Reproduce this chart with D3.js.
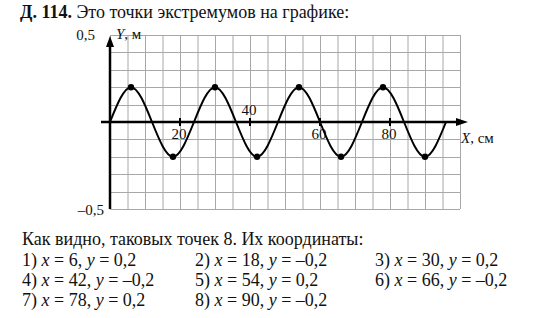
<!DOCTYPE html>
<html>
<head>
<meta charset="utf-8">
<script src="https://cdn.jsdelivr.net/npm/d3@7"></script>
<style>
  body { margin: 0; background: #fff; }
  text { font-family: "Liberation Serif", "Times New Roman", serif; fill: #111; }
</style>
</head>
<body>
<div id="chart"></div>
<script>
// curve nodes (zero crossings and extrema)
var curveX = [0, 6, 12, 18, 24, 30, 36, 42, 48, 54, 60, 66, 72, 78, 84, 90, 96];
var curveY = [0, 0.2, 0, -0.2, 0, 0.2, 0, -0.2, 0, 0.2, 0, -0.2, 0, 0.2, 0, -0.2, 0];

// marked extremum points
var extremaX = [6, 18, 30, 42, 54, 66, 78, 90];
var extremaY = [0.2, -0.2, 0.2, -0.2, 0.2, -0.2, 0.2, -0.2];

var xTicks = [20, 40, 60, 80];
var xDomain = [0, 100];
var yDomain = [-0.5, 0.5];

var svgWidth = 551;
var svgHeight = 318;

var svg = d3.select("#chart")
  .append("svg")
  .attr("width", svgWidth)
  .attr("height", svgHeight);

var x = d3.scaleLinear().domain(xDomain).range([110, 460]);
var y = d3.scaleLinear().domain(yDomain).range([209, 35]);

// grid
var grid = svg.append("g").attr("stroke", "#a8a8a8").attr("stroke-width", 1);
grid.selectAll(".vl")
  .data(d3.range(0, 101, 5))
  .enter()
  .append("line")
  .attr("x1", d => x(d) + 0.5).attr("x2", d => x(d) + 0.5)
  .attr("y1", y(0.5)).attr("y2", y(-0.5));
grid.selectAll(".hl")
  .data(d3.range(-5, 6).map(d => d / 10))
  .enter()
  .append("line")
  .attr("x1", x(0)).attr("x2", x(100))
  .attr("y1", d => Math.round(y(d)) + 0.5).attr("y2", d => Math.round(y(d)) + 0.5);

// axes
var y0 = Math.round(y(0));
svg.append("line")
  .attr("x1", 101).attr("x2", 460)
  .attr("y1", y0).attr("y2", y0)
  .attr("stroke", "#000").attr("stroke-width", 2.5);
svg.append("path")
  .attr("d", `M468,${y0} L456,${y0 - 4} L456,${y0 + 4} Z`)
  .attr("fill", "#000");

svg.append("line")
  .attr("x1", x(0)).attr("x2", x(0))
  .attr("y1", y(-0.5)).attr("y2", 42)
  .attr("stroke", "#000").attr("stroke-width", 2.5);
svg.append("path")
  .attr("d", `M${x(0)},36 L${x(0) - 4},47 L${x(0) + 4},47 Z`)
  .attr("fill", "#000");

// ticks on x axis
svg.selectAll(".tick")
  .data(xTicks)
  .enter()
  .append("line")
  .attr("x1", d => x(d)).attr("x2", d => x(d))
  .attr("y1", y0 - 4).attr("y2", y0 + 4)
  .attr("stroke", "#000").attr("stroke-width", 2);

svg.selectAll(".ticklabel")
  .data(xTicks)
  .enter()
  .append("text")
  .attr("x", d => d === 40 ? x(d) - 1 : x(d) - 1)
  .attr("y", d => d === 40 ? y0 - 7 : y0 + 17)
  .attr("text-anchor", "middle")
  .attr("font-size", 15)
  .text(d => d);

// curve
var line = d3.line()
  .x((d, i) => x(curveX[i]))
  .y((d, i) => y(curveY[i]))
  .curve(d3.curveNatural);

svg.append("path")
  .attr("d", line(curveX))
  .attr("fill", "none")
  .attr("stroke", "#000")
  .attr("stroke-width", 2);

svg.selectAll(".pt")
  .data(extremaX)
  .enter()
  .append("circle")
  .attr("cx", d => x(d))
  .attr("cy", (d, i) => y(extremaY[i]))
  .attr("r", 3.2)
  .attr("fill", "#000");

// axis labels
svg.append("text").attr("x", 95).attr("y", 40).attr("text-anchor", "end")
  .attr("font-size", 15).text("0,5");
svg.append("text").attr("x", 104).attr("y", 215).attr("text-anchor", "end")
  .attr("font-size", 15).text("–0,5");

var yl = svg.append("text").attr("x", 116).attr("y", 39).attr("font-size", 15);
yl.append("tspan").attr("font-style", "italic").text("Y");
yl.append("tspan").text(", м");

var xl = svg.append("text").attr("x", 461).attr("y", 143).attr("font-size", 15);
xl.append("tspan").attr("font-style", "italic").text("X");
xl.append("tspan").text(", см");

// heading
var head = svg.append("text").attr("x", 20).attr("y", 18).attr("font-size", 18);
head.append("tspan").attr("font-weight", "bold").text("Д. 114.");
head.append("tspan").text(" Это точки экстремумов на графике:");

// answer text
svg.append("text").attr("x", 22).attr("y", 245).attr("font-size", 18)
  .text("Как видно, таковых точек 8. Их координаты:");

var colX = [22, 195, 375];
var rowY = [266, 286, 306];

extremaX.forEach(function(xv, i) {
  var t = svg.append("text")
    .attr("x", colX[i % 3])
    .attr("y", rowY[Math.floor(i / 3)])
    .attr("font-size", 18);
  var yv = String(extremaY[i]).replace("-", "–").replace(".", ",");
  t.append("tspan").text((i + 1) + ") ");
  t.append("tspan").attr("font-style", "italic").text("x");
  t.append("tspan").text(" = " + xv + ", ");
  t.append("tspan").attr("font-style", "italic").text("y");
  t.append("tspan").text(" = " + yv);
});
</script>
</body>
</html>
